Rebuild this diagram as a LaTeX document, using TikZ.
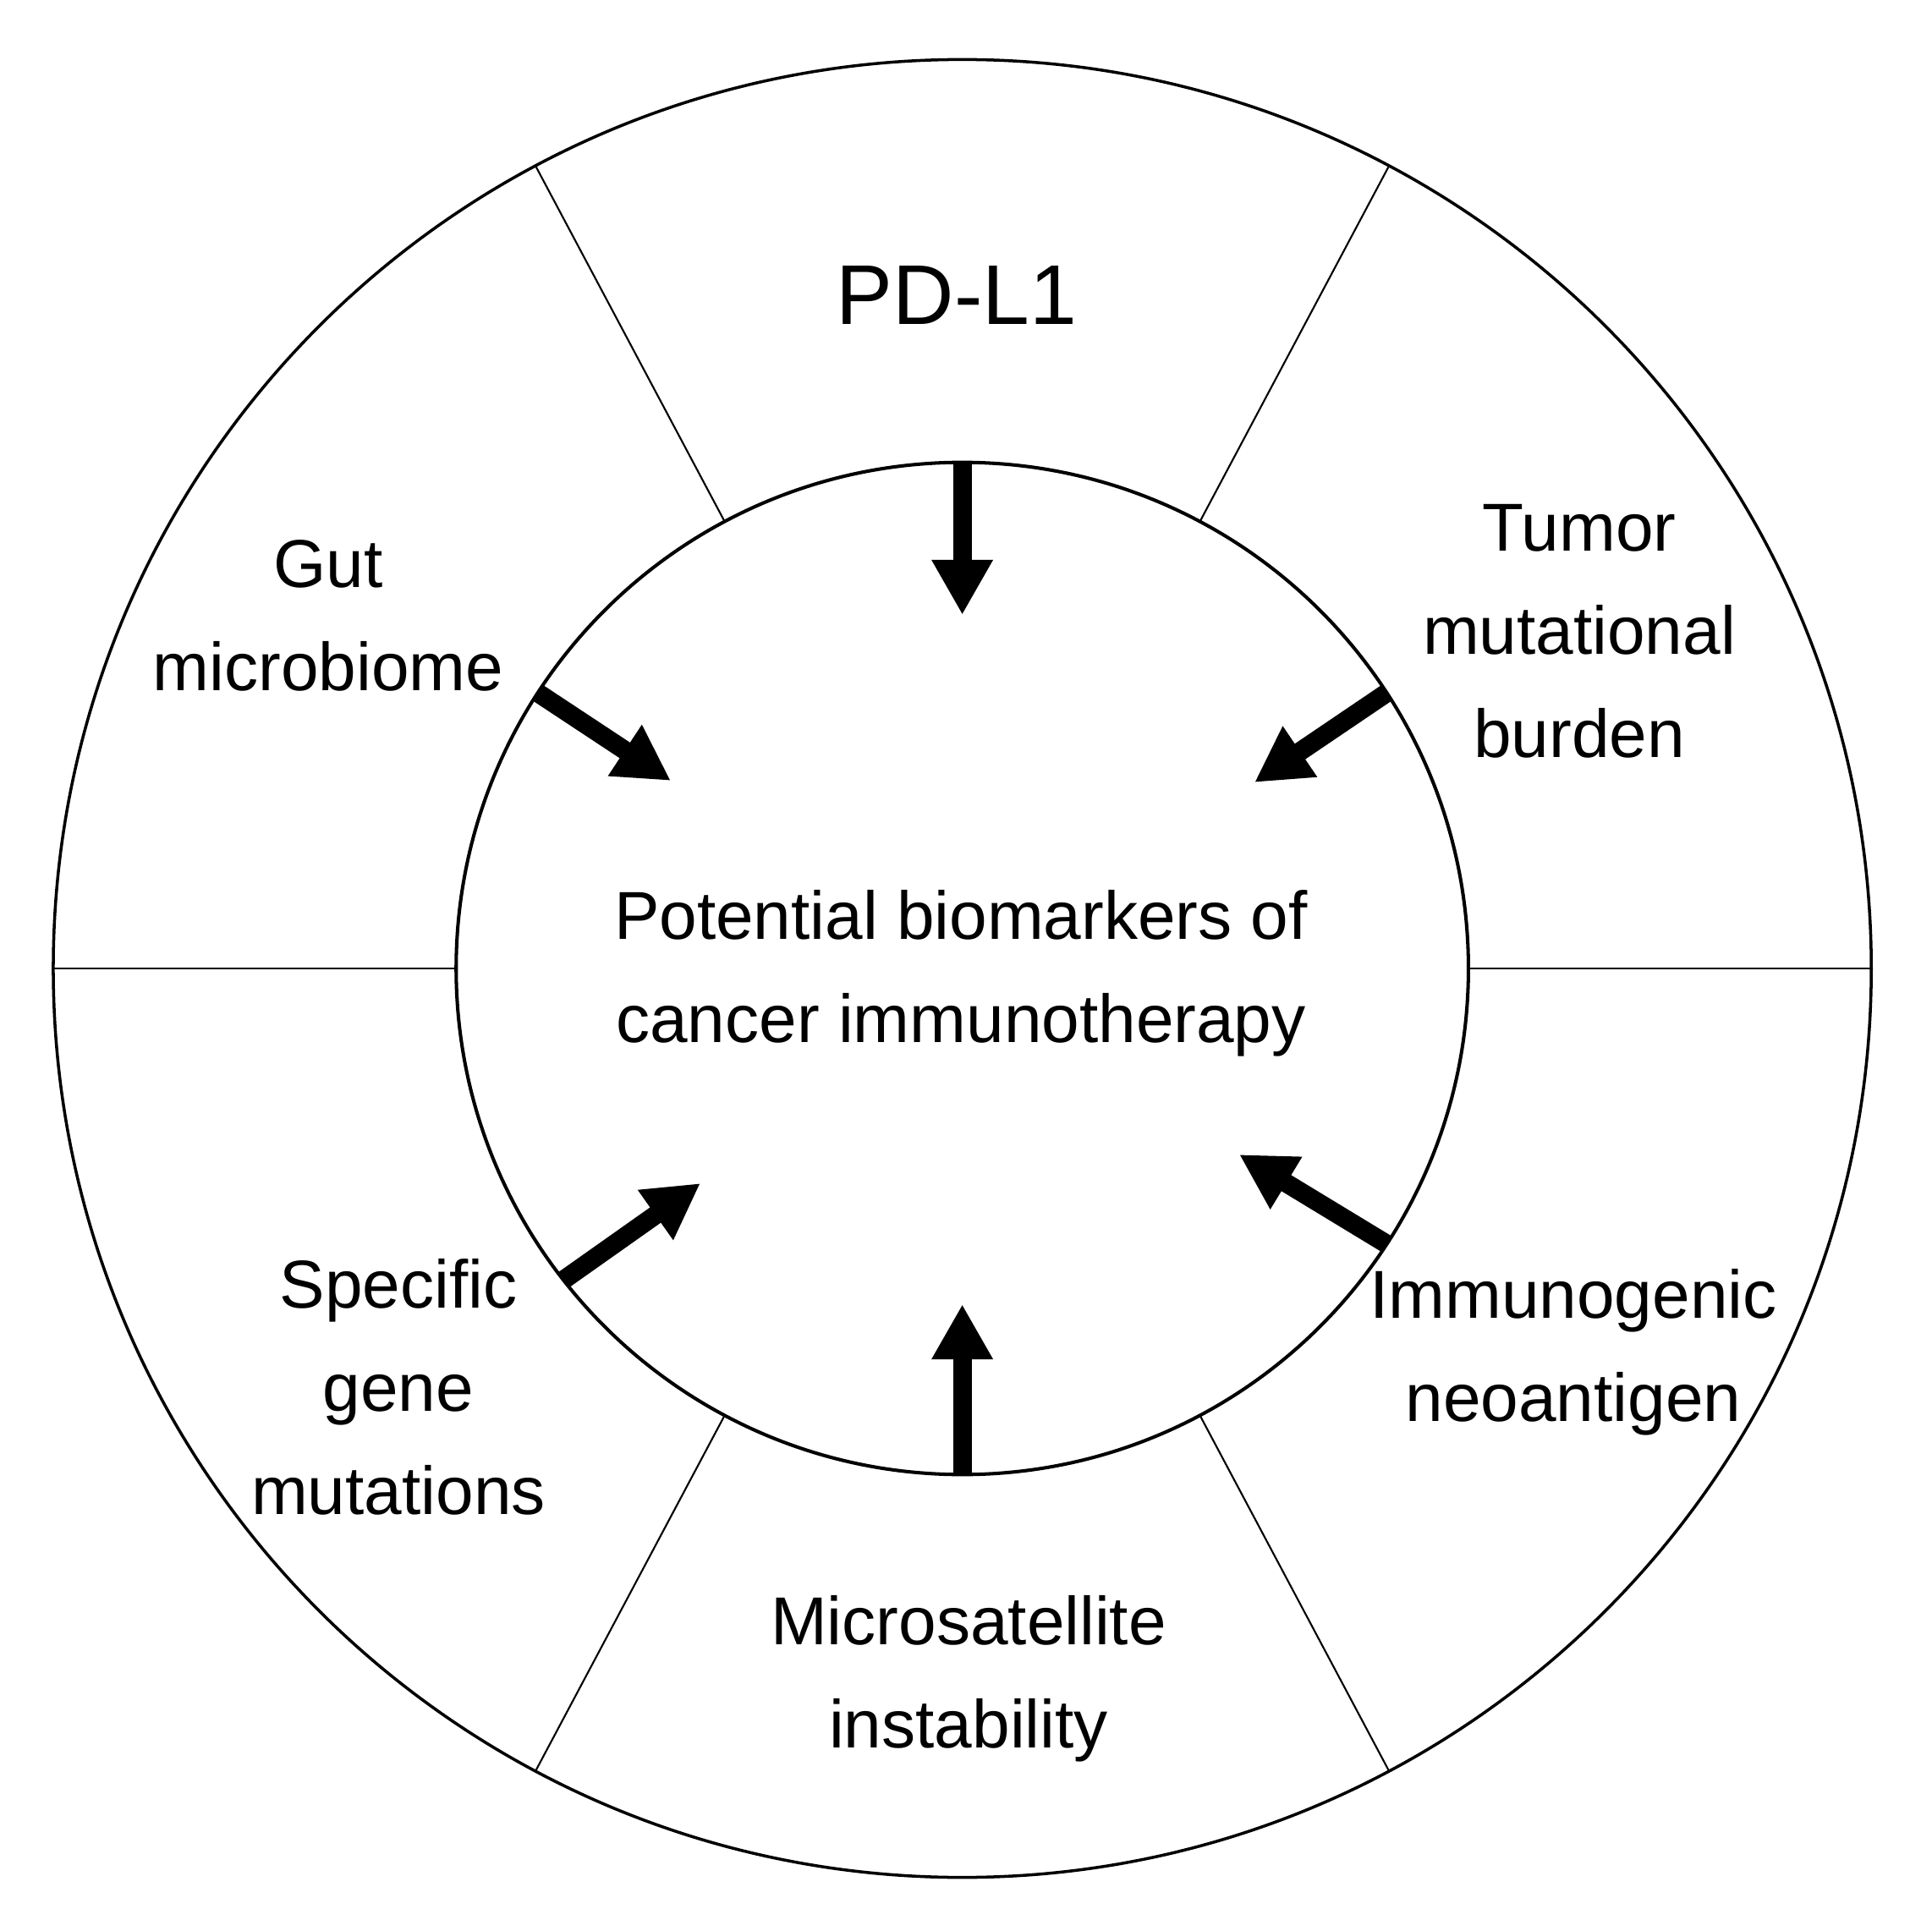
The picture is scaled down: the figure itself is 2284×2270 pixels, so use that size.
\documentclass[tikz,border=0pt]{standalone}
\usepackage{fontspec}
\setmainfont{Liberation Sans}
\usetikzlibrary{arrows.meta}
\begin{document}
\begin{tikzpicture}[x=0.01cm,y=-0.01cm,
  ring/.style={circle,draw,inner sep=0pt,outer sep=0pt},
  divider/.style={line width=0.6pt},
  bigarrow/.style={line width=6.3pt,-{Triangle[width=19.3pt,length=18.5pt]}},
  lbl/.style={align=center,anchor=base,inner sep=0pt,font=\fontsize{22.8}{34.6}\selectfont},
  title/.style={anchor=base,inner sep=0pt,font=\fontsize{28.5}{34}\selectfont}]
\useasboundingbox (0,0) rectangle (2284,2270);
\node[ring,line width=1pt,minimum size=21.48cm] (outer) at (1137.6,1145) {};
\node[ring,line width=1.15pt,minimum size=11.96cm] (inner) at (1137.6,1145) {};
% dividers
\foreach \a in {0,62,118,180,242,298}
  \draw[divider] (inner.\a) -- (outer.\a);
% arrow end points
\coordinate (tTop) at (1137.6,727);
\coordinate (tGut) at (793,923);
\coordinate (tTmb) at (1483,925);
\coordinate (tImm) at (1465,1365);
\coordinate (tSpg) at (828,1399);
\coordinate (tMsi) at (1137.6,1542);
\draw[bigarrow] (inner.90) -- (tTop);
\draw[bigarrow] (inner.147.4) -- (tGut);
\draw[bigarrow] (inner.33.2) -- (tTmb);
\draw[bigarrow] (inner.-33.7) -- (tImm);
\draw[bigarrow] (inner.-142.1) -- (tSpg);
\draw[bigarrow] (inner.-90) -- (tMsi);
% labels (anchor = baseline of last line)
\node[title] (pdl1) at (1131,384) {PD-L1};
\node[lbl] (centre) at (1136,1232) {Potential biomarkers of\\cancer immunotherapy};
\node[lbl] (gut) at (388,816) {Gut\\microbiome};
\node[lbl] (tmb) at (1867,895) {Tumor\\mutational\\burden};
\node[lbl] (imm) at (1860,1680) {Immunogenic\\neoantigen};
\node[lbl] (spg) at (471,1790) {Specific\\gene\\mutations};
\node[lbl] (msi) at (1145,2066) {Microsatellite\\instability};
\end{tikzpicture}
\end{document}
